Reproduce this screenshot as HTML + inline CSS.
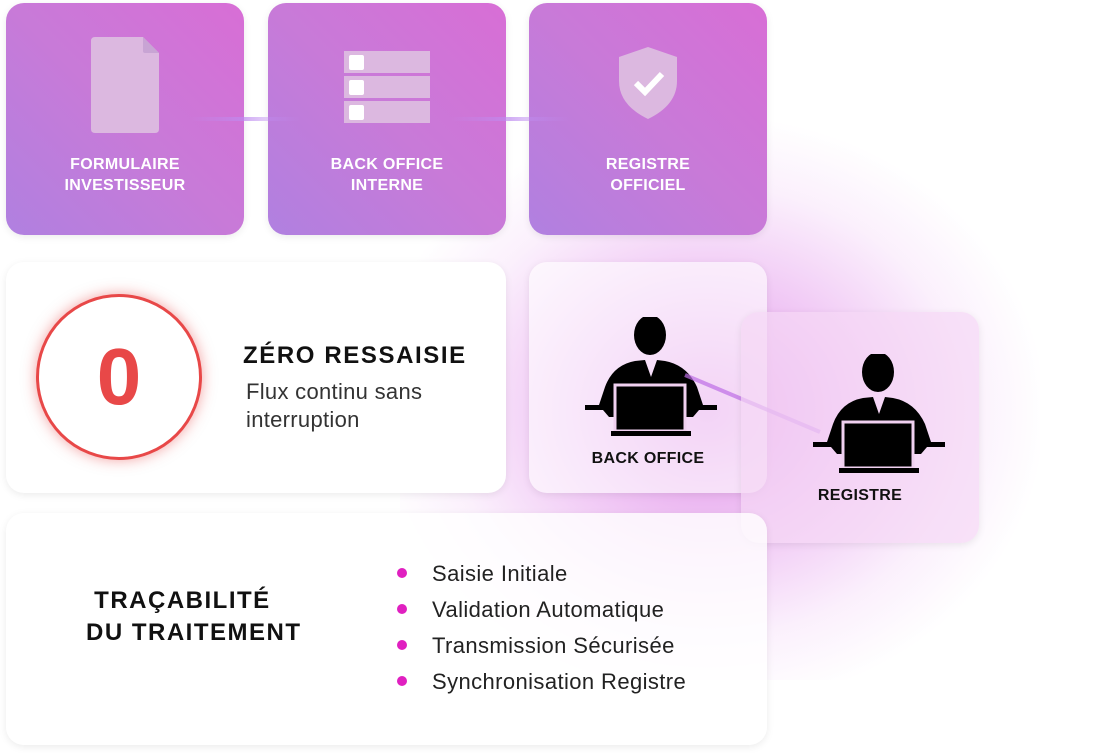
<!DOCTYPE html>
<html><head><meta charset="utf-8"><style>
*{margin:0;padding:0;box-sizing:border-box}
body{width:1108px;height:753px;background:#fff;position:relative;overflow:hidden;font-family:"Liberation Sans",sans-serif}
.glow{position:absolute;left:400px;top:120px;width:640px;height:560px;background:radial-gradient(ellipse at 48% 52%,rgba(215,110,225,.75) 0%,rgba(222,130,232,.45) 30%,rgba(235,180,242,.2) 55%,rgba(255,255,255,0) 72%)}
.card{position:absolute;border-radius:18px;box-shadow:0 2px 8px rgba(0,0,0,.08)}
.top{top:3px;width:238px;height:232px;background:linear-gradient(45deg,#b080e0 0%,#c87ad8 50%,#d86ed6 100%);color:#fff;font-weight:bold;font-size:16px;letter-spacing:.3px;text-align:center;line-height:21px}
.top .lbl{position:absolute;left:0;right:0;top:151px}
.line{position:absolute;height:4px;top:117px;background:linear-gradient(90deg,rgba(200,150,240,0),rgba(190,140,240,.7),rgba(200,150,240,0))}
.li{position:absolute;left:432px;font-size:22px;letter-spacing:.4px;color:#222}
.dot{position:absolute;left:397px;width:10px;height:10px;border-radius:50%;background:#e020c0}
</style></head><body>
<div class="glow"></div>
<div class="card top" style="left:6px"><svg style="position:absolute;left:85px;top:34px" width="68" height="96"><path d="M4 0H52L68 16V92Q68 96 64 96H4Q0 96 0 92V4Q0 0 4 0Z" fill="#dcb8e0"/><path d="M52 0V14Q52 16 54 16H68Z" fill="#c8a4d4"/></svg><div class="lbl">FORMULAIRE<br>INVESTISSEUR</div></div>
<div class="card top" style="left:268px"><svg style="position:absolute;left:76px;top:48px" width="88" height="76"><g fill="#dcb8e0"><rect y="0" width="86" height="22"/><rect y="25" width="86" height="22"/><rect y="50" width="86" height="22"/></g><g fill="#fff"><rect x="5" y="4" width="15" height="15" rx="2"/><rect x="5" y="29" width="15" height="15" rx="2"/><rect x="5" y="54" width="15" height="15" rx="2"/></g></svg><div class="lbl">BACK OFFICE<br>INTERNE</div></div>
<div class="card top" style="left:529px"><svg style="position:absolute;left:88px;top:42px" width="62" height="76"><path d="M31 2L60 12V36Q60 60 31 74Q2 60 2 36V12Z" fill="#dcb8e0"/><path d="M19 38L28 47L45 29" stroke="#fff" stroke-width="6" fill="none"/></svg><div class="lbl">REGISTRE<br>OFFICIEL</div></div>
<div class="line" style="left:190px;width:110px"></div>
<div class="line" style="left:450px;width:120px"></div>

<div class="card" style="left:6px;top:262px;width:500px;height:231px;background:#fff">
<div style="position:absolute;left:30px;top:32px;width:166px;height:166px;border-radius:50%;border:3px solid #e84848;box-shadow:0 0 14px rgba(232,72,72,.5);background:#fff;text-align:center;line-height:160px;font-size:80px;font-weight:bold;color:#e84848">0</div>
<div style="position:absolute;left:237px;top:80px;font-size:24px;font-weight:bold;letter-spacing:1.6px;color:#111">ZÉRO RESSAISIE</div>
<div style="position:absolute;left:240px;top:116px;font-size:22px;letter-spacing:.3px;color:#333;line-height:28px">Flux continu sans<br>interruption</div>
</div>
<div class="card" style="left:529px;top:262px;width:238px;height:231px;background:rgba(255,255,255,.6)">
<svg style="position:absolute;left:56px;top:55px" width="132" height="125" viewBox="0 0 132 125"><g fill="#000"><ellipse cx="65" cy="18" rx="16" ry="20"/><path d="M20 70Q28 48 50 44L60 43L66 60L72 43L80 44Q102 48 112 70L118 88H132V93H114L108 100H24L18 93H0V88H14Z"/></g><rect x="30" y="68" width="70" height="46" fill="#000" stroke="#f0d0f0" stroke-width="3"/><rect x="26" y="114" width="80" height="5" fill="#000"/></svg>
<div style="position:absolute;left:0;right:0;top:188px;text-align:center;font-weight:bold;font-size:16px;letter-spacing:.3px;color:#111">BACK OFFICE</div>
</div>
<svg style="position:absolute;left:680px;top:370px" width="150" height="70"><line x1="5" y1="5" x2="140" y2="62" stroke="rgba(190,110,230,.7)" stroke-width="4"/></svg>
<div class="card" style="left:741px;top:312px;width:238px;height:231px;background:rgba(245,215,245,.7)">
<svg style="position:absolute;left:72px;top:42px" width="132" height="125" viewBox="0 0 132 125"><g fill="#000"><ellipse cx="65" cy="18" rx="16" ry="20"/><path d="M20 70Q28 48 50 44L60 43L66 60L72 43L80 44Q102 48 112 70L118 88H132V93H114L108 100H24L18 93H0V88H14Z"/></g><rect x="30" y="68" width="70" height="46" fill="#000" stroke="#f0d0f0" stroke-width="3"/><rect x="26" y="114" width="80" height="5" fill="#000"/></svg>
<div style="position:absolute;left:0;right:0;top:175px;text-align:center;font-weight:bold;font-size:16px;letter-spacing:.3px;color:#111">REGISTRE</div>
</div>

<div class="card" style="left:6px;top:513px;width:761px;height:232px;background:rgba(255,255,255,.8)">
<div style="position:absolute;left:80px;top:72px;font-size:24px;font-weight:bold;letter-spacing:1.5px;color:#111;line-height:32px">&nbsp;TRAÇABILITÉ<br>DU TRAITEMENT</div>
</div>
<div class="dot" style="top:568px"></div><div class="li" style="top:561px">Saisie Initiale</div>
<div class="dot" style="top:604px"></div><div class="li" style="top:597px">Validation Automatique</div>
<div class="dot" style="top:640px"></div><div class="li" style="top:633px">Transmission Sécurisée</div>
<div class="dot" style="top:676px"></div><div class="li" style="top:669px">Synchronisation Registre</div>
</body></html>
